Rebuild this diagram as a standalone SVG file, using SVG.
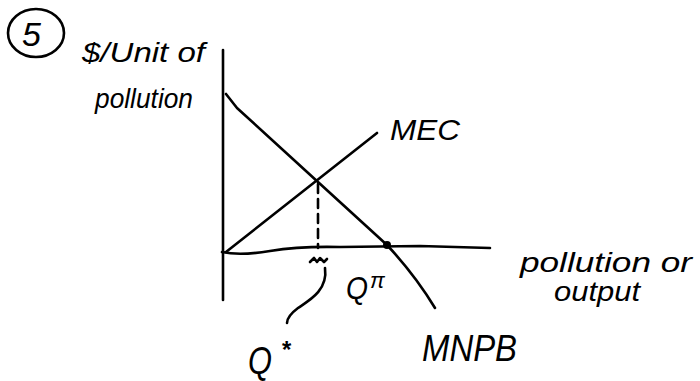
<svg xmlns="http://www.w3.org/2000/svg" width="700" height="381" viewBox="0 0 700 381">
<style>
.ln{fill:none;stroke:#000;stroke-width:2.6;stroke-linecap:round;stroke-linejoin:round}
.t{font-family:"Liberation Sans",Arial,sans-serif;font-style:italic;fill:#000}
</style>
<rect width="700" height="381" fill="#fff"/>
<g id="number">
<ellipse cx="36" cy="33" rx="28" ry="24" class="ln" stroke-width="2"/>
<text x="22" y="46" class="t" font-size="34" font-style="normal">5</text>
</g>
<g id="y-label">
<text x="82" y="62" class="t" font-size="28" textLength="123" lengthAdjust="spacingAndGlyphs">$/Unit of</text>
<text x="95" y="108" class="t" font-size="28" textLength="98" lengthAdjust="spacingAndGlyphs">pollution</text>
</g>
<g id="axes">
<path class="ln" d="M223 50 L223 300"/>
<path class="ln" d="M222 252 Q240 256 270 251 T340 247 L420 246 L490 248"/>
</g>
<g id="connectors">
<path id="MEC-line" class="ln" d="M226 252 L377 133"/>
<path id="MNPB-line" class="ln" d="M226 94 L237 108 L318 182 L387 245 Q415 275 435 308"/>
<path id="dashed" class="ln" d="M318 184 L318 248" stroke-dasharray="9 6"/>
<path id="qstar-pointer" class="ln" d="M325 268 C 328 290 310 300 298 308 C 290 314 287 318 287 323"/>
<circle cx="387" cy="245" r="4" fill="#000"/>
<path class="ln" d="M310 262 l4 -4 l3 4 l3 -4 l4 4 l3 -3" stroke-width="2.5"/>
</g>
<g id="MEC">
<text x="390" y="140" class="t" font-size="30" textLength="70" lengthAdjust="spacingAndGlyphs">MEC</text>
</g>
<g id="MNPB">
<text x="422" y="361" class="t" font-size="36" textLength="95" lengthAdjust="spacingAndGlyphs">MNPB</text>
</g>
<g id="Qpi">
<text x="346" y="299" class="t" font-size="32" textLength="22" lengthAdjust="spacingAndGlyphs">Q</text>
<text x="370" y="288" class="t" font-size="22" font-style="normal">π</text>
</g>
<g id="Qstar">
<text x="248" y="374" class="t" font-size="38" textLength="24" lengthAdjust="spacingAndGlyphs">Q</text>
<text x="281" y="358" class="t" font-size="24" font-weight="bold" font-style="normal">*</text>
</g>
<g id="x-label">
<text x="520" y="272" class="t" font-size="28" textLength="172" lengthAdjust="spacingAndGlyphs">pollution or</text>
<text x="554" y="301" class="t" font-size="28" textLength="86" lengthAdjust="spacingAndGlyphs">output</text>
</g>
</svg>
